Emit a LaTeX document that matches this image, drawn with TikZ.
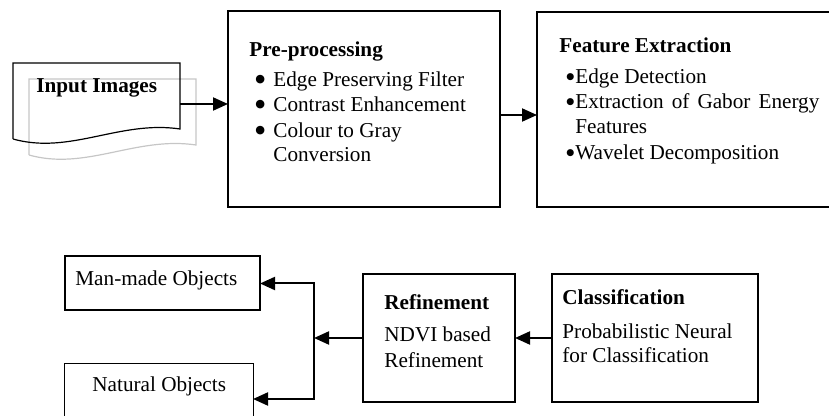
\documentclass[tikz,border=0pt]{standalone}
\usepackage{fontspec}
\setmainfont{Liberation Serif}
\newfontfamily\dejavu{DejaVu Sans}
\usetikzlibrary{arrows.meta,calc}
\newcommand{\mybul}{\raisebox{2.1pt}{\dejavu\fontsize{5.6}{6}\selectfont ●}}
\newcommand{\mysbul}{\raisebox{2.3pt}{\dejavu\fontsize{4.6}{5}\selectfont ●}}
\begin{document}
\begin{tikzpicture}[x=0.5pt,y=-0.5pt,
  box/.style={draw,line width=1pt,inner sep=0pt,outer sep=0pt},
  txt/.style={anchor=base west,inner sep=0pt,font=\fontsize{10.6}{12.6}\selectfont},
  btxt/.style={txt,font=\fontsize{10.6}{12.6}\selectfont\bfseries},
  arr/.style={line width=1pt,-{Triangle[length=7.5pt,width=6.5pt]}}]
\useasboundingbox (0,0) rectangle (829,416);
\clip (0,0) rectangle (829,416);
% input document
\node[inner sep=0pt,minimum width=83.5pt,minimum height=41pt] (doc) at (96.5,104) {};
\draw[gray!45,line width=0.6pt] (29,155) -- (29,79) -- (196,79) -- (196,145)
  .. controls (136,136) and (86,171) .. (29,155);
\draw[line width=0.6pt] (13,139) -- (13,63) -- (180,63) -- (180,129)
  .. controls (120,120) and (70,155) .. (13,139);
\node[btxt] (inp) at (36,93) {Input Images};
% boxes
\node[box,minimum width=136pt,minimum height=98pt] (pre) at (364,109) {};
\node[box,minimum width=161.5pt,minimum height=97.5pt] (feat) at (698.5,109.5) {};
\node[box,minimum width=97.5pt,minimum height=27pt] (man) at (162.5,283.5) {};
\node[box,line width=0.5pt,minimum width=94.5pt,minimum height=33pt] (nat) at (158.5,397) {};
\node[box,minimum width=76pt,minimum height=64pt] (ref) at (439,338) {};
\node[box,minimum width=103pt,minimum height=64pt] (cls) at (655,338) {};
% pre-processing text
\node[btxt] (preh) at (249,57) {Pre-processing};
\node[txt] (pre1) at (255,87) {\makebox[9pt][l]{\mybul}Edge Preserving Filter};
\node[txt] (pre2) at (255,112) {\makebox[9pt][l]{\mybul}Contrast Enhancement};
\node[txt] (pre3) at (255,138) {\makebox[9pt][l]{\mybul}Colour to Gray};
\node[txt] (pre4) at (273,162) {Conversion};
% feature text
\node[btxt] (feath) at (559,53) {Feature Extraction};
\node[txt] (feat1) at (566,84) {\makebox[4.5pt][l]{\mysbul}Edge Detection};
\node[txt] (feat2) at (566,109) {\makebox[4.5pt][l]{\mysbul}\makebox[122pt][s]{Extraction of Gabor Energy}};
\node[txt] (feat3) at (575,134) {Features};
\node[txt] (feat4) at (566,160) {\makebox[4.5pt][l]{\mysbul}Wavelet Decomposition};
% bottom texts
\node[txt] (mant) at (75,286) {Man-made Objects};
\node[txt] (natt) at (92,392) {Natural Objects};
\node[btxt] (refh) at (384,310) {Refinement};
\node[txt] (ref1) at (384,342) {NDVI based};
\node[txt] (ref2) at (384,367) {Refinement};
\node[btxt] (clsh) at (562,305) {Classification};
\node[txt] (cls1) at (562,339) {Probabilistic Neural};
\node[txt] (cls2) at (562,363) {for Classification};
% connectors
\draw[arr] (doc.east) -- (doc.east -| pre.west);
\draw[arr] ([yshift=-3pt]pre.east) -- ([yshift=-3pt]pre.east -| feat.west);
\draw[arr] (cls.west) -- (ref.east);
\coordinate (j) at (314,338);
\draw[arr] (ref.west) -- (j);
\draw[arr] (j) |- (man.east);
\draw[arr] (j) |- ([yshift=-1pt]nat.east);
\end{tikzpicture}
\end{document}
